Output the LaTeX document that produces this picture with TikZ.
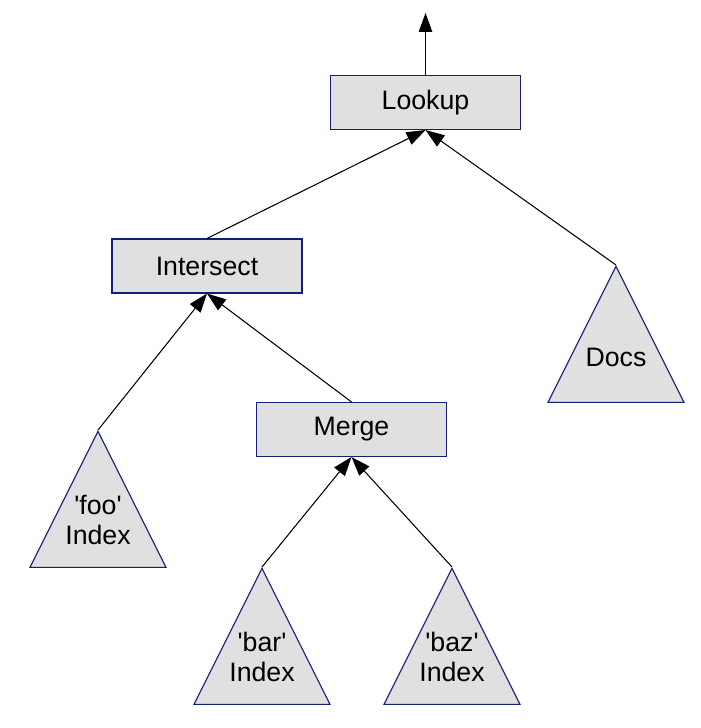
\documentclass[tikz,border=0pt]{standalone}
\usepackage{fontspec}
\setmainfont{Liberation Sans}
\usepackage{xcolor}
\usepackage{tikz}
\usetikzlibrary{arrows.meta,shapes.geometric}

\definecolor{boxfill}{RGB}{224,224,224}
\definecolor{boxline}{RGB}{20,30,120}

\tikzset{
	opbox/.style={draw=boxline,fill=boxfill,line width=0.6pt,minimum width=3.8cm,minimum height=1.08cm,inner sep=0pt,font=\fontsize{15.2}{17}\selectfont},
	datatri/.style={draw=boxline,fill=boxfill,line width=0.6pt,isosceles triangle,shape border rotate=90,isosceles triangle stretches,minimum width=2.72cm,minimum height=2.72cm,inner sep=0pt,anchor=apex},
	trilabel/.style={align=center,inner sep=0pt,font=\fontsize{15.2}{17}\selectfont},
	flow/.style={-{Triangle[length=0.38cm,width=0.27cm]},line width=0.6pt}
}
\newcommand{\q}{\textquotesingle}

\begin{document}
\begin{tikzpicture}
		\useasboundingbox (0,0) rectangle (14,14.56);
		\node[opbox] (Lookup) at (8.51,12.51) {Lookup};
		\node[opbox] (Intersect) at (4.14,9.24) {Intersect};
		\node[opbox] (Merge) at (7.03,5.97) {Merge};
		\node[datatri] (Docs) at (12.32,9.26) {};
		\node[datatri] (Foo) at (1.96,5.96) {};
		\node[datatri] (Bar) at (5.24,3.22) {};
		\node[datatri] (Baz) at (9.04,3.22) {};
		\node[trilabel] (DocsText) at ([yshift=-1.84cm]Docs.apex) {Docs};
		\node[trilabel] (FooText) at ([yshift=-1.8cm]Foo.apex) {\q foo\q\\Index};
		\node[trilabel] (BarText) at ([yshift=-1.8cm]Bar.apex) {\q bar\q\\Index};
		\node[trilabel] (BazText) at ([yshift=-1.8cm]Baz.apex) {\q baz\q\\Index};
		\coordinate (Out) at (8.51,14.3);
		%
		\path[flow]
		(Lookup.north) edge (Out)
		(Intersect.north) edge (Lookup.south)
		(Docs.apex) edge (Lookup.south)
		(Foo.apex) edge (Intersect.south)
		(Merge.north) edge (Intersect.south)
		(Bar.apex) edge (Merge.south)
		(Baz.apex) edge (Merge.south);
\end{tikzpicture}
\end{document}
